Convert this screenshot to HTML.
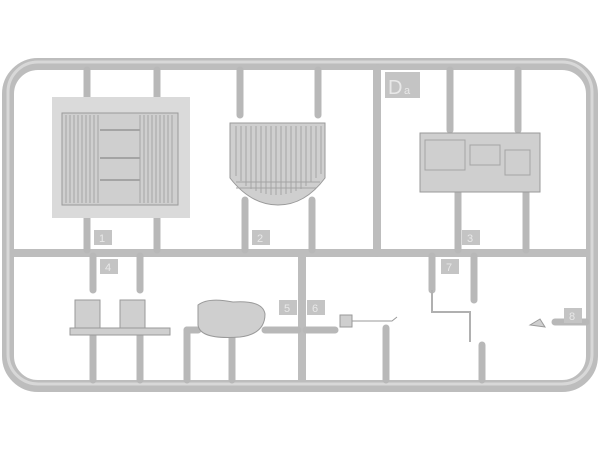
<!DOCTYPE html>
<html><head><style>body{margin:0;background:#fff}svg{display:block}text{font-family:"Liberation Sans",sans-serif;fill:#e8e8e8;font-size:11px}</style></head><body>
<svg width="600" height="450" viewBox="0 0 600 450" xmlns="http://www.w3.org/2000/svg">
<g stroke="#bdbdbd" fill="none" stroke-linecap="round">
<rect x="8" y="64" width="584" height="322" rx="30" stroke-width="12"/>
<line x1="14" y1="253" x2="586" y2="253" stroke-width="8"/>
<line x1="377" y1="68" x2="377" y2="253" stroke-width="8"/>
<line x1="302" y1="253" x2="302" y2="382" stroke-width="8"/>
</g>
<g stroke="#d8d8d8" fill="none">
<rect x="8" y="62" width="584" height="322" rx="30" stroke-width="3"/>
</g>
<g stroke="#b8b8b8" stroke-width="7" stroke-linecap="round">
<line x1="87" y1="70" x2="87" y2="100"/><line x1="157" y1="70" x2="157" y2="100"/>
<line x1="87" y1="215" x2="87" y2="250"/><line x1="157" y1="215" x2="157" y2="250"/>
<line x1="240" y1="70" x2="240" y2="115"/><line x1="318" y1="70" x2="318" y2="115"/>
<line x1="245" y1="200" x2="245" y2="250"/><line x1="312" y1="200" x2="312" y2="250"/>
<line x1="450" y1="70" x2="450" y2="130"/><line x1="518" y1="70" x2="518" y2="130"/>
<line x1="458" y1="192" x2="458" y2="250"/><line x1="526" y1="192" x2="526" y2="250"/>
<line x1="93" y1="256" x2="93" y2="290"/><line x1="140" y1="256" x2="140" y2="290"/>
<line x1="93" y1="335" x2="93" y2="380"/><line x1="140" y1="335" x2="140" y2="380"/>
<line x1="232" y1="330" x2="232" y2="380"/><line x1="187" y1="330" x2="187" y2="380"/>
<line x1="187" y1="330" x2="198" y2="330"/>
<line x1="265" y1="330" x2="298" y2="330"/><line x1="306" y1="330" x2="335" y2="330"/>
<line x1="386" y1="328" x2="386" y2="380"/>
<line x1="432" y1="256" x2="432" y2="290"/><line x1="474" y1="256" x2="474" y2="300"/>
<line x1="482" y1="345" x2="482" y2="380"/>
<line x1="555" y1="322" x2="586" y2="322"/>
</g>
<g fill="#cfcfcf" stroke="#9a9a9a" stroke-width="1">
<rect x="52" y="97" width="138" height="121" fill="#dadada" stroke="none"/>
<rect x="62" y="113" width="116" height="92"/>
<path d="M230 123 h95 v55 q-20 27 -47 27 q-27 0 -48 -27 z"/>
<rect x="420" y="133" width="120" height="59"/>
<path d="M75 300 h25 v30 h-25z M120 300 h25 v30 h-25z"/>
<rect x="70" y="328" width="100" height="7"/>
<path d="M198 305 q10 -8 35 -3 q30 -2 32 12 q0 20 -25 23 q-40 3 -42 -12z"/>
<rect x="340" y="315" width="12" height="12"/>
<path d="M352 321 h40 l5 -4" fill="none"/>
<path d="M432 290 v22 h38 v30" fill="none" stroke="#b0b0b0" stroke-width="2"/>
<path d="M530 325 l10 -6 l5 8z"/>
</g>
<g stroke="#a4a4a4" stroke-width="1">
<path d="M66 115 v88 M70 115 v88 M74 115 v88 M78 115 v88 M82 115 v88 M86 115 v88 M90 115 v88 M94 115 v88 M98 115 v88 M140 115 v88 M144 115 v88 M148 115 v88 M152 115 v88 M156 115 v88 M160 115 v88 M164 115 v88 M168 115 v88 M172 115 v88"/>
<path d="M100 130 h40 M100 158 h40 M100 180 h40" stroke-width="2"/>
<path d="M236 126 v50 M241 126 v55 M246 126 v60 M251 126 v63 M256 126 v65 M261 126 v67 M266 126 v68 M271 126 v69 M276 126 v69 M281 126 v69 M286 126 v68 M291 126 v67 M296 126 v65 M301 126 v63 M306 126 v60 M311 126 v56 M316 126 v52 M321 126 v48"/>
<path d="M236 182 h84 M236 188 h80" />
<path d="M425 140 h40 v30 h-40z M470 145 h30 v20 h-30z M505 150 h25 v25 h-25z" fill="none"/>
</g>
<g fill="#c4c4c4">
<rect x="385" y="72" width="35" height="26"/>
<rect x="94" y="230" width="18" height="15"/><rect x="252" y="230" width="18" height="15"/><rect x="462" y="230" width="18" height="15"/>
<rect x="100" y="259" width="18" height="15"/><rect x="279" y="300" width="18" height="15"/><rect x="307" y="300" width="18" height="15"/>
<rect x="441" y="259" width="18" height="15"/><rect x="564" y="308" width="18" height="15"/>
</g>
<text x="388" y="94" style="font-size:20px">D</text><text x="404" y="94">a</text>
<text x="99" y="242">1</text><text x="257" y="242">2</text><text x="467" y="242">3</text>
<text x="105" y="271">4</text><text x="284" y="312">5</text><text x="312" y="312">6</text>
<text x="446" y="271">7</text><text x="569" y="320">8</text>
</svg>
</body></html>
